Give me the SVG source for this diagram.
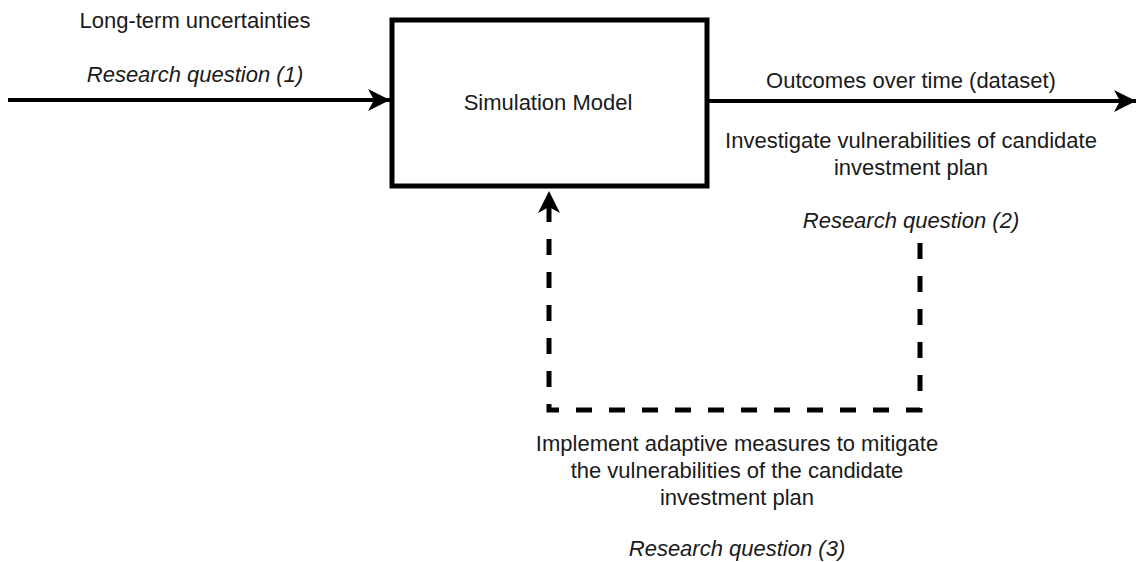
<svg xmlns="http://www.w3.org/2000/svg" width="1137" height="562" viewBox="0 0 1137 562">
  <style>
    .lbl { font-family: "Liberation Sans", Arial, sans-serif; font-size: 22px; fill: #1a1a1a; text-anchor: middle; }
    .it { font-style: italic; }
    .box { fill: #ffffff; stroke: #000000; stroke-width: 5; }
    .flow { fill: none; stroke: #000000; stroke-width: 4; }
    .dash { stroke-dasharray: 16 17; stroke-width: 5; }
  </style>
  <defs>
    <marker id="arrow" viewBox="0 0 24 24" refX="23" refY="12" markerWidth="24" markerHeight="24" markerUnits="userSpaceOnUse" orient="auto">
      <path d="M1,1 L23,12 L1,23 L7,12 Z" fill="#000000"/>
    </marker>
  </defs>

  <rect width="1137" height="562" fill="#ffffff"/>

  <!-- connectors -->
  <g id="connectors">
    <path id="in-edge" class="flow" d="M8,100 L390,100" marker-end="url(#arrow)"/>
    <path id="out-edge" class="flow" d="M707,101 L1136,101" marker-end="url(#arrow)"/>
    <path id="feedback-edge" class="flow dash" d="M920,243 L920,410 L549,410 L549,191" marker-end="url(#arrow)"/>
  </g>

  <!-- simulation model -->
  <g id="node-model">
    <rect class="box" x="392" y="20" width="315" height="166"/>
    <text class="lbl" x="548" y="110">Simulation Model</text>
  </g>

  <!-- input labels -->
  <g id="label-input">
    <text class="lbl" x="195" y="28">Long-term uncertainties</text>
    <text class="lbl it" x="195" y="82">Research question (1)</text>
  </g>

  <!-- output labels -->
  <g id="label-output">
    <text class="lbl" x="911" y="88">Outcomes over time (dataset)</text>
    <text class="lbl" x="911" y="148">Investigate vulnerabilities of candidate</text>
    <text class="lbl" x="911" y="175">investment plan</text>
    <text class="lbl it" x="911" y="228">Research question (2)</text>
  </g>

  <!-- feedback labels -->
  <g id="label-feedback">
    <text class="lbl" x="737" y="451">Implement adaptive measures to mitigate</text>
    <text class="lbl" x="737" y="478">the vulnerabilities of the candidate</text>
    <text class="lbl" x="737" y="505">investment plan</text>
    <text class="lbl it" x="737" y="556">Research question (3)</text>
  </g>
</svg>
